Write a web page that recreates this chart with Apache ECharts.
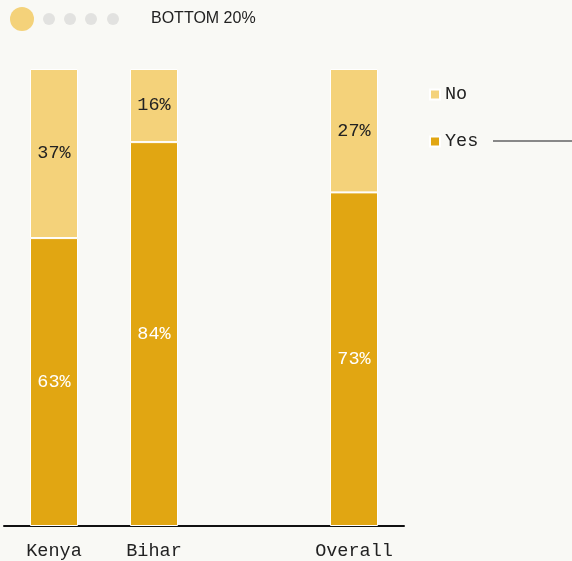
<!DOCTYPE html>
<html><head><meta charset="utf-8">
<script src="https://cdn.jsdelivr.net/npm/echarts@6/dist/echarts.min.js"></script>
<style>html,body{margin:0;padding:0;background:#f9f9f5}#c{width:572px;height:561px}</style>
</head><body><div id="c"></div>
<script>
const categories = ['Kenya', 'Bihar', '', 'Overall'];
const yesValues = [63, 84, null, 73];
const noValues = [37, 16, null, 27];
const seriesNames = ['No', 'Yes'];
const title = 'BOTTOM 20%';

const mono = '"Liberation Mono", "DejaVu Sans Mono", monospace';
const chart = echarts.init(document.getElementById('c'));
chart.setOption({
  backgroundColor: '#f9f9f5',
  animation: false,
  grid: { left: 4, right: 168, top: 69, bottom: 35, containLabel: false },
  legend: {
    orient: 'vertical', left: 424, top: 80, itemGap: 28,
    itemWidth: 10, itemHeight: 10, icon: 'rect',
    data: seriesNames,
    textStyle: { fontFamily: mono, fontSize: 18.5, color: '#222' }
  },
  xAxis: {
    type: 'category', data: categories,
    axisLine: { lineStyle: { color: '#111', width: 2 } },
    axisTick: { show: false },
    axisLabel: { interval: 0, hideOverlap: false, fontFamily: mono, fontSize: 18.5, color: '#222', margin: 16 }
  },
  yAxis: { type: 'value', min: 0, max: 100, show: false, splitLine: { show: false } },
  series: [
    {
      name: 'Yes', type: 'bar', stack: 's', barWidth: 48, data: yesValues,
      itemStyle: { color: '#e1a612', borderColor: '#ffffff', borderWidth: 1 },
      label: { show: true, position: 'inside', formatter: p => p.value + '%', fontFamily: mono, fontSize: 18.5, color: '#fff' }
    },
    {
      name: 'No', type: 'bar', stack: 's', barWidth: 48, data: noValues,
      itemStyle: { color: '#f4d27a', borderColor: '#ffffff', borderWidth: 1 },
      label: { show: true, position: 'inside', formatter: p => p.value + '%', fontFamily: mono, fontSize: 18.5, color: '#222' }
    }
  ],
  graphic: [
    { type: 'circle', shape: { cx: 22, cy: 19, r: 12 }, style: { fill: '#f4d27a' } },
    { type: 'circle', shape: { cx: 49, cy: 19, r: 6 }, style: { fill: '#e2e2e0' } },
    { type: 'circle', shape: { cx: 70, cy: 19, r: 6 }, style: { fill: '#e2e2e0' } },
    { type: 'circle', shape: { cx: 91, cy: 19, r: 6 }, style: { fill: '#e2e2e0' } },
    { type: 'circle', shape: { cx: 113, cy: 19, r: 6 }, style: { fill: '#e2e2e0' } },
    { type: 'text', x: 151, y: 19, style: { text: title, fill: '#222', font: '16px "Liberation Sans", Arial, sans-serif', textVerticalAlign: 'middle', textBaseline: 'middle' } },
    { type: 'line', shape: { x1: 493, y1: 141, x2: 572, y2: 141 }, style: { stroke: '#888', lineWidth: 2 } }
  ]
});
</script></body></html>
